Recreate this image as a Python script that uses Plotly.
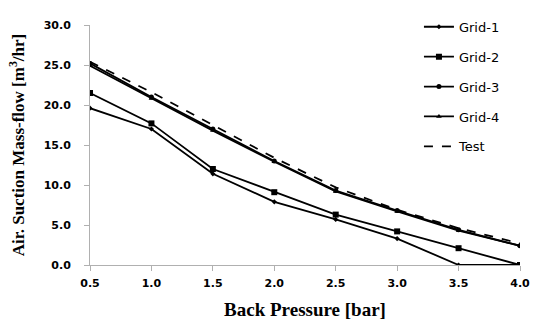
import plotly.graph_objects as go

pressure = [0.5, 1.0, 1.5, 2.0, 2.5, 3.0, 3.5, 4.0]
grid1 = [19.6, 17.0, 11.4, 7.9, 5.7, 3.3, 0.0, 0.0]
grid2 = [21.5, 17.7, 12.0, 9.1, 6.3, 4.2, 2.1, 0.0]
grid3 = [25.2, 21.0, 17.0, 13.0, 9.3, 6.8, 4.4, 2.4]
grid4 = [24.9, 20.8, 16.8, 12.9, 9.2, 6.7, 4.3, 2.4]
test = [25.4, 21.6, 17.5, 13.4, 9.7, 6.9, 4.6, 2.7]

x_ticks = [0.5, 1.0, 1.5, 2.0, 2.5, 3.0, 3.5, 4.0]
y_ticks = [0, 5, 10, 15, 20, 25, 30]

fig = go.Figure()
series = [
    ("Grid-1", grid1, "diamond", 4),
    ("Grid-2", grid2, "square", 6),
    ("Grid-3", grid3, "circle", 5),
    ("Grid-4", grid4, "triangle-up", 5),
]
for name, vals, sym, sz in series:
    fig.add_trace(go.Scatter(
        x=pressure, y=vals, name=name, mode="lines+markers",
        line=dict(color="black", width=1.8),
        marker=dict(symbol=sym, size=sz, color="black"),
        legendgroup=name,
    ))
fig.add_trace(go.Scatter(
    x=pressure, y=test, name="Test", mode="lines",
    line=dict(color="black", width=1.8, dash="dash"),
    legendgroup="Test",
))

tick_font = dict(family="DejaVu Sans", size=11, color="black", weight="bold")

fig.update_layout(
    width=534, height=323,
    margin=dict(l=90, r=14, t=14, b=58),
    paper_bgcolor="white", plot_bgcolor="white",
    showlegend=True,
    legend=dict(
        x=0.765, y=1.055, xanchor="left", yanchor="top",
        font=dict(family="DejaVu Sans", size=13, color="black"),
        bgcolor="rgba(0,0,0,0)",
        tracegroupgap=10,
        traceorder="grouped",
        itemwidth=30,
    ),
    xaxis=dict(
        range=[0.5, 4.0], tickvals=x_ticks, tickformat=".1f",
        showgrid=False, zeroline=False, automargin=False,
        showline=True, linecolor="#b0b0b0", linewidth=1,
        ticks="outside", tickcolor="#b0b0b0", ticklen=5,
        ticklabelstandoff=3,
        tickfont=tick_font,
        title=dict(text="<b>Back Pressure [bar]</b>",
                   font=dict(family="Liberation Serif", size=19, color="black"),
                   standoff=13),
    ),
    yaxis=dict(
        range=[0, 30], tickvals=y_ticks, tickformat=".1f",
        showgrid=False, zeroline=False, automargin=False,
        showline=True, linecolor="#b0b0b0", linewidth=1,
        ticks="outside", tickcolor="#b0b0b0", ticklen=5,
        ticklabelstandoff=11,
        tickfont=tick_font,
        title=dict(text="<b>Air. Suction Mass-flow [m<sup>3</sup>/hr]</b>",
                   font=dict(family="Liberation Serif", size=17, color="black"),
                   standoff=14),
    ),
)

fig.write_html("out.html", config={"displayModeBar": False})

with open("out.html", "r", encoding="utf-8") as f:
    html = f.read()
html = html.replace("<body>", '<body style="margin:0;padding:0;">', 1)
html = html.replace("<head>", '<head><style>html,body{margin:0;padding:0;overflow:hidden;}</style>', 1)
with open("out.html", "w", encoding="utf-8") as f:
    f.write(html)
